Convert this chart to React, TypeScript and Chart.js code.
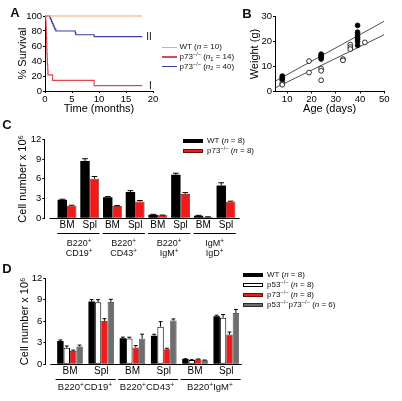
import React, { useEffect, useRef } from 'react';
import { Chart, registerables } from 'chart.js';

Chart.register(...registerables);

const FONT = "'Liberation Sans', Arial, Helvetica, sans-serif";
Chart.defaults.font.family = FONT;
Chart.defaults.color = '#000';

// ---------------- Panel A : survival ----------------
const survTimeWT = [0, 18];
const survPctWT = [100, 100];
const survTimeN1 = [0, 0.15, 0.2, 0.24, 0.27, 0.3, 0.33, 0.36, 0.4, 0.44, 0.5, 0.55, 1.4, 9.1, 18];
const survPctN1 = [100, 92.9, 85.7, 78.6, 71.4, 64.3, 57.1, 50, 42.9, 35.7, 28.6, 21.4, 14.3, 7.1, 7.1];
const survTimeN2 = [0, 0.9, 1.05, 1.2, 1.35, 1.5, 1.65, 1.8, 2.0, 5.6, 5.7, 9.1, 18];
const survPctN2 = [100, 97.5, 95, 92.5, 90, 87.5, 85, 82.5, 80, 77.5, 75, 72.5, 72.5];
const survLegendNames = ['WT', 'p73^−/−^', 'p73^−/−^'];
const survLegendSubs = ['', '1', '2'];
const survLegendN = [10, 14, 40];
const survCurveLabels = ['II', 'I'];

// ---------------- Panel B : weight vs age ----------------
const wtAge = [8, 8, 8, 24, 24, 24, 24, 24, 39, 39, 39, 39, 39, 39, 39];
const wtWeight = [6.2, 5.6, 5.0, 15, 14.5, 14, 13.5, 13, 26.5, 23.8, 22.7, 21.8, 21, 20, 18.5];
const koAge = [8, 8, 8, 19, 19, 24, 24, 24, 33, 33, 36, 36, 36, 42];
const koWeight = [4.3, 3.2, 2.7, 12.2, 7.6, 9.2, 8.3, 4.5, 13, 12.5, 18.8, 17.8, 17, 19.7];
const wtFitAge = [5, 50];
const wtFitWeight = [4.1, 28.2];
const koFitAge = [5, 50];
const koFitWeight = [1.4, 22.8];

// ---------------- Panel C : WT vs p73 ----------------
const catsC = ['BM', 'Spl', 'BM', 'Spl', 'BM', 'Spl', 'BM', 'Spl'];
const groupsC = [[0, 1], [2, 3], [4, 5], [6, 7]];
const groupLabelsC = [['B220^+^', 'CD19^+^'], ['B220^+^', 'CD43^+^'], ['B220^+^', 'IgM^+^'], ['IgM^+^', 'IgD^+^']];
const wtC = [2.8, 8.7, 3.2, 4.0, 0.55, 6.6, 0.4, 5.0];
const wtErrC = [0.1, 0.35, 0.1, 0.2, 0.05, 0.25, 0.05, 0.4];
const p73C = [1.9, 6.0, 1.85, 2.55, 0.45, 3.7, 0.2, 2.5];
const p73ErrC = [0.08, 0.35, 0.08, 0.15, 0.04, 0.2, 0.03, 0.1];
const legendNamesC = ['WT', 'p73^−/−^'];
const legendNC = [8, 8];

// ---------------- Panel D : four genotypes ----------------
const catsD = ['BM', 'Spl', 'BM', 'Spl', 'BM', 'Spl'];
const groupsD = [[0, 1], [2, 3], [4, 5]];
const groupLabelsD = ['B220^+^CD19^+^', 'B220^+^CD43^+^', 'B220^+^IgM^+^'];
const wtD = [3.25, 8.75, 3.65, 4.0, 0.74, 6.7];
const wtErrD = [0.15, 0.28, 0.14, 0.19, 0.04, 0.15];
const p53D = [2.3, 8.65, 3.6, 5.25, 0.6, 6.5];
const p53ErrD = [0.25, 0.37, 0.18, 0.7, 0.04, 0.45];
const p73D = [1.85, 6.05, 2.35, 2.1, 0.7, 4.15];
const p73ErrD = [0.13, 0.32, 0.27, 0.14, 0.04, 0.35];
const dkoD = [2.5, 8.7, 3.55, 6.1, 0.56, 7.15];
const dkoErrD = [0.18, 0.37, 0.65, 0.23, 0.04, 0.5];
const legendNamesD = ['WT', 'p53^−/−^', 'p73^−/−^', 'p53^−/−^p73^−/−^'];
const legendND = [8, 8, 8, 6];

// ---------------- styles ----------------
const survColors = ['#f2a56c', '#e2474f', '#40409f'];
const barFill = { wt: '#000000', p53: '#ffffff', p73: '#f01a1a', dko: '#6e6e6e' };
const barEdge = { wt: '#000000', p53: '#000000', p73: '#6a0d0d', dko: '#2e2e2e' };

const zip = (xs: number[], ys: number[]) => xs.map((x, i) => ({ x, y: ys[i] }));

// ---------------- plugins ----------------
const errorBars = {
  id: 'errorBars',
  afterDatasetsDraw(chart: any) {
    const ctx = chart.ctx;
    const y = chart.scales.y;
    chart.data.datasets.forEach((ds: any, di: number) => {
      if (!ds.errors) return;
      const meta = chart.getDatasetMeta(di);
      meta.data.forEach((bar: any, i: number) => {
        const v = ds.data[i].y;
        const top = y.getPixelForValue(v + ds.errors[i]);
        const w = bar.width * 0.6;
        ctx.save();
        ctx.strokeStyle = '#000';
        ctx.lineWidth = 1;
        ctx.beginPath();
        ctx.moveTo(bar.x, bar.y);
        ctx.lineTo(bar.x, top);
        ctx.moveTo(bar.x - w / 2, top);
        ctx.lineTo(bar.x + w / 2, top);
        ctx.stroke();
        ctx.restore();
      });
    });
  },
};

const axisExtras = {
  id: 'axisExtras',
  afterDraw(chart: any, _args: any, opts: any) {
    const { ctx, chartArea } = chart;
    const x = chart.scales.x;
    ctx.save();
    ctx.strokeStyle = '#000';
    ctx.lineWidth = 1;
    const yb = Math.round(chartArea.bottom) + 0.5;
    ctx.beginPath();
    ctx.moveTo(x.getPixelForValue(opts.axisStart), yb);
    ctx.lineTo(chartArea.right, yb);
    ctx.stroke();
    const yg = Math.round(chartArea.bottom + opts.groupOffset) + 0.5;
    (opts.groups || []).forEach(([a, b]: number[]) => {
      ctx.beginPath();
      ctx.moveTo(x.getPixelForValue(a - opts.groupExt), yg);
      ctx.lineTo(x.getPixelForValue(b + opts.groupExt), yg);
      ctx.stroke();
    });
    ctx.restore();
  },
};

// ---------------- axis helpers ----------------
const f = (size: number) => ({ family: FONT, size });

function yAxis(width: number, max: number, step: number, title: string, titlePad: number) {
  return {
    type: 'linear',
    min: 0,
    max,
    afterFit: (s: any) => { s.width = width; },
    ticks: { stepSize: step, font: f(9.5), color: '#000', padding: 1 },
    grid: { drawOnChartArea: false, drawTicks: true, tickLength: 2, color: '#000' },
    border: { display: true, color: '#000', width: 1 },
    title: { display: true, text: title, font: f(11), color: '#000', padding: { top: titlePad, bottom: 0 } },
  };
}

function ChartBox({ make, left, top, width, height }: any) {
  const ref = useRef<HTMLCanvasElement>(null);
  useEffect(() => {
    const chart = new Chart(ref.current as HTMLCanvasElement, make());
    return () => chart.destroy();
  }, []);
  return (
    <canvas
      ref={ref}
      width={width}
      height={height}
      style={{ position: 'absolute', left, top, width, height }}
    />
  );
}

function Rich({ s }: { s: string }) {
  const parts = s.split(/(\^[^^]*\^|~[^~]*~|\*[^*]*\*)/).filter(Boolean);
  return (
    <>
      {parts.map((p, i) => {
        if (p[0] === '^')
          return <span key={i} style={{ fontSize: '70%', position: 'relative', top: '-0.45em' }}>{p.slice(1, -1)}</span>;
        if (p[0] === '~')
          return <span key={i} style={{ fontSize: '70%', position: 'relative', top: '0.3em' }}>{p.slice(1, -1)}</span>;
        if (p[0] === '*') return <i key={i}>{p.slice(1, -1)}</i>;
        return <span key={i}>{p}</span>;
      })}
    </>
  );
}

function Label({ x, y, size, bold, align = 'left', children }: any) {
  const tx = align === 'center' ? '-50%' : align === 'right' ? '-100%' : '0';
  return (
    <div
      style={{
        position: 'absolute', left: x, top: y, transform: `translate(${tx}, -50%)`,
        fontSize: size, fontWeight: bold ? 700 : 400, lineHeight: 1, whiteSpace: 'nowrap', color: '#111',
      }}
    >
      {children}
    </div>
  );
}

// ---------------- chart configs ----------------
const makeA = () => ({
  type: 'line',
  data: {
    datasets: [
      { data: zip(survTimeWT, survPctWT), borderColor: survColors[0] },
      { data: zip(survTimeN1, survPctN1), borderColor: survColors[1] },
      { data: zip(survTimeN2, survPctN2), borderColor: survColors[2] },
    ].map((d) => ({ ...d, borderWidth: 1.2, stepped: true, pointRadius: 0, fill: false, clip: false })),
  },
  options: {
    animation: false, responsive: false, events: [],
    layout: { padding: { top: 16, right: 7, left: 0, bottom: 0 } },
    plugins: { legend: { display: false }, tooltip: { enabled: false } },
    scales: {
      x: {
        type: 'linear', min: 0, max: 20,
        afterFit: (s: any) => { s.height = 27; },
        ticks: { stepSize: 5, font: f(9.5), color: '#000', padding: 0.5, maxRotation: 0 },
        grid: { drawOnChartArea: false, tickLength: 2, color: '#000' },
        border: { display: true, color: '#000', width: 1 },
        title: { display: true, text: 'Time (months)', font: f(11), color: '#000', padding: { top: 0, bottom: 2 } },
      },
      y: yAxis(45, 100, 20, '% Survival', 16),
    },
  },
});

const makeB = () => ({
  type: 'scatter',
  data: {
    datasets: [
      { data: zip(wtAge, wtWeight), backgroundColor: '#000', borderColor: '#000', borderWidth: 0.8, pointRadius: 2.4 },
      { data: zip(koAge, koWeight), backgroundColor: '#fff', borderColor: '#000', borderWidth: 0.8, pointRadius: 2.4 },
      { data: zip(wtFitAge, wtFitWeight), showLine: true, borderColor: '#222', borderWidth: 0.8, pointRadius: 0 },
      { data: zip(koFitAge, koFitWeight), showLine: true, borderColor: '#222', borderWidth: 0.8, pointRadius: 0 },
    ],
  },
  options: {
    animation: false, responsive: false, events: [],
    layout: { padding: { top: 16.7, right: 17.7, left: 0, bottom: 0 } },
    plugins: { legend: { display: false }, tooltip: { enabled: false } },
    scales: {
      x: {
        type: 'linear', min: 5, max: 50,
        afterFit: (s: any) => { s.height = 26.5; },
        ticks: { stepSize: 10, includeBounds: false, font: f(9.5), color: '#000', padding: 0.5, maxRotation: 0 },
        grid: { drawOnChartArea: false, tickLength: 2, color: '#000' },
        border: { display: true, color: '#000', width: 1 },
        title: { display: true, text: 'Age (days)', font: f(11), color: '#000', padding: { top: 0, bottom: 2 } },
      },
      y: yAxis(40, 30, 10, 'Weight (g)', 13.4),
    },
  },
});

function barConfig(cats: string[], datasets: any[], xmin: number, xmax: number, yWidth: number, titlePad: number,
  padTop: number, padRight: number, xHeight: number, catPct: number, axisStart: number, groups: number[][], groupExt: number) {
  return {
    type: 'bar',
    data: { datasets },
    plugins: [errorBars, axisExtras],
    options: {
      animation: false, responsive: false, events: [],
      layout: { padding: { top: padTop, right: padRight, left: 0, bottom: 0 } },
      datasets: { bar: { categoryPercentage: catPct, barPercentage: 1 } },
      plugins: {
        legend: { display: false }, tooltip: { enabled: false },
        axisExtras: { axisStart, groups, groupExt, groupOffset: 15 },
      },
      scales: {
        x: {
          type: 'linear', min: xmin, max: xmax, offset: false,
          afterFit: (s: any) => { s.height = xHeight; },
          afterBuildTicks: (s: any) => { s.ticks = cats.map((_, i) => ({ value: i })); },
          ticks: { font: f(10), color: '#000', padding: 1, maxRotation: 0, autoSkip: false, callback: (v: number) => cats[v] },
          grid: { drawOnChartArea: false, drawTicks: false, offset: false },
          border: { display: false },
        },
        y: yAxis(yWidth, 12, 3, 'Cell number x 10⁶', titlePad),
      },
    },
  };
}

const barDs = (vals: number[], errs: number[], key: string, bw: number) => ({
  data: vals.map((y, i) => ({ x: i, y })),
  errors: errs,
  backgroundColor: (barFill as any)[key],
  borderColor: (barEdge as any)[key],
  borderWidth: bw,
  borderSkipped: false,
});

const makeC = () =>
  barConfig(catsC, [barDs(wtC, wtErrC, 'wt', 0), barDs(p73C, p73ErrC, 'p73', 0.7)],
    -1, 7.6, 44.3, 16.4, 9.3, 5.4, 19.7, 0.83, -0.77, groupsC, 0.43);

const makeD = () =>
  barConfig(catsD, [
    barDs(wtD, wtErrD, 'wt', 0), barDs(p53D, p53ErrD, 'p53', 1),
    barDs(p73D, p73ErrD, 'p73', 0.7), barDs(dkoD, dkoErrD, 'dko', 0.7),
  ], -0.79, 5.5, 45.3, 18.4, 10.3, 8.1, 19.7, 0.82, -0.63, groupsD, 0.46);

// ---------------- app ----------------
export default function App() {
  const legendA = survLegendNames.map((nm, i) => `${nm} (*n*${survLegendSubs[i] ? `~${survLegendSubs[i]}~` : ''} = ${survLegendN[i]})`);
  const legendC = legendNamesC.map((nm, i) => `${nm} (*n* = ${legendNC[i]})`);
  const legendD = legendNamesD.map((nm, i) => `${nm} (*n* = ${legendND[i]})`);
  const keysC = ['wt', 'p73'];
  const keysD = ['wt', 'p53', 'p73', 'dko'];
  const rowsA = [47.2, 57, 66.7];
  const rowsC = [141, 151];
  const rowsD = [275, 285, 294.7, 304.5];
  const groupXC = [79, 123.5, 169, 214.5];
  const groupXD = [85, 147, 210];

  return (
    <div style={{ position: 'absolute', left: 0, top: 0, width: 402, height: 401, overflow: 'hidden', background: '#fff', fontFamily: FONT }}>
      <ChartBox make={makeA} left={0} top={0} width={160} height={118} />
      <ChartBox make={makeB} left={235} top={0} width={167} height={118} />
      <ChartBox make={makeC} left={0} top={130} width={245} height={108} />
      <ChartBox make={makeD} left={0} top={268} width={250} height={116} />

      <Label x={15} y={11.7} size={13} bold align="center">A</Label>
      <Label x={247} y={12.5} size={13} bold align="center">B</Label>
      <Label x={7} y={123.5} size={13} bold align="center">C</Label>
      <Label x={7} y={268.3} size={13} bold align="center">D</Label>

      <Label x={149} y={37.3} size={10} align="center">{survCurveLabels[0]}</Label>
      <Label x={150.5} y={86} size={10} align="center">{survCurveLabels[1]}</Label>

      {legendA.map((t, i) => (
        <React.Fragment key={'a' + i}>
          <div style={{ position: 'absolute', left: 161.7, top: rowsA[i] - 0.6, width: 15, height: 1.2, background: survColors[i] }} />
          <Label x={179.5} y={rowsA[i]} size={8}><Rich s={t} /></Label>
        </React.Fragment>
      ))}

      {legendC.map((t, i) => (
        <React.Fragment key={'c' + i}>
          <div style={{ position: 'absolute', left: 183, top: rowsC[i] - 2.2, width: 20, height: 4.4, boxSizing: 'border-box',
            background: (barFill as any)[keysC[i]], border: `0.8px solid ${(barEdge as any)[keysC[i]]}` }} />
          <Label x={207} y={rowsC[i]} size={8}><Rich s={t} /></Label>
        </React.Fragment>
      ))}

      {legendD.map((t, i) => (
        <React.Fragment key={'d' + i}>
          <div style={{ position: 'absolute', left: 243, top: rowsD[i] - 2, width: 20, height: 4, boxSizing: 'border-box',
            background: (barFill as any)[keysD[i]], border: `0.8px solid ${(barEdge as any)[keysD[i]]}` }} />
          <Label x={267} y={rowsD[i]} size={8}><Rich s={t} /></Label>
        </React.Fragment>
      ))}

      {groupLabelsC.map((lines, i) => (
        <React.Fragment key={'gc' + i}>
          <Label x={groupXC[i]} y={242.7} size={9} align="center"><Rich s={lines[0]} /></Label>
          <Label x={groupXC[i]} y={253.3} size={9} align="center"><Rich s={lines[1]} /></Label>
        </React.Fragment>
      ))}

      {groupLabelsD.map((t, i) => (
        <Label key={'gd' + i} x={groupXD[i]} y={386.7} size={9.5} align="center"><Rich s={t} /></Label>
      ))}
    </div>
  );
}
